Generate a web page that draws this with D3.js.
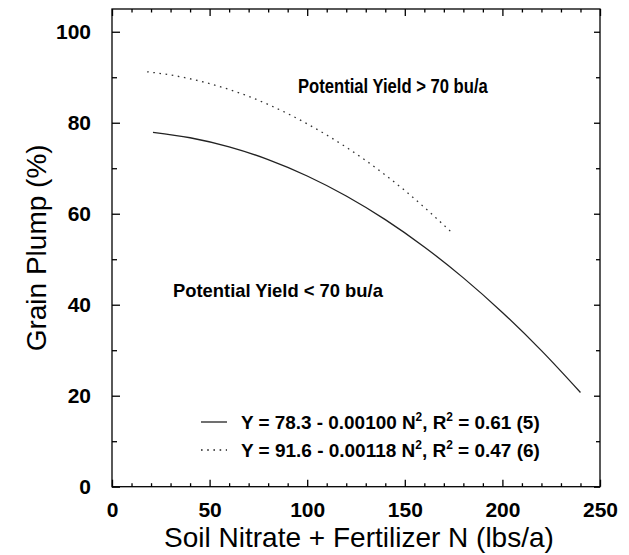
<!DOCTYPE html>
<html>
<head>
<meta charset="utf-8">
<script src="https://cdn.jsdelivr.net/npm/d3@7/dist/d3.min.js"></script>
<style>
  body { margin: 0; background: #fff; }
  svg { display: block; font-family: "Liberation Sans", Arial, sans-serif; }
</style>
</head>
<body>
<svg width="629" height="555"></svg>
<script>
// values
var lowN     = [21, 40, 60, 80, 100, 120, 140, 160, 180, 200, 220, 240];
var lowPlump = [77.9, 76.7, 74.7, 71.9, 68.3, 63.9, 58.7, 52.7, 45.9, 38.3, 29.9, 20.7];
var highN     = [18, 30, 50, 70, 90, 110, 130, 150, 175];
var highPlump = [91.2, 90.5, 88.6, 85.8, 82.0, 77.3, 71.7, 65.1, 55.5];
var xTicks = [0, 50, 100, 150, 200, 250];
var yTicks = [0, 20, 40, 60, 80, 100];
var legendText = [
	["Y = 78.3 - 0.00100 N", "2", ", R", "2", " = 0.61 (5)"],
	["Y = 91.6 - 0.00118 N", "2", ", R", "2", " = 0.47 (6)"]
];

var svg = d3.select("svg"),
	pLeft = 112, pTop = 9, pRight = 600, pBottom = 486.7;

var x = d3.scaleLinear().domain([0, 250]).range([pLeft, pRight]);
var y = d3.scaleLinear().domain([0, 105]).range([pBottom, pTop]);

var minorX = d3.range(0, 251, 10).filter(function(d) { return d % 50; });
var minorY = d3.range(10, 101, 20);

//frame
svg.append("rect")
	.attr("x", pLeft).attr("y", pTop)
	.attr("width", pRight - pLeft).attr("height", pBottom - pTop)
	.attr("fill", "none").attr("stroke", "#000").attr("stroke-width", 1.3);

function styleAxis(g) {
	g.select(".domain").remove();
	g.selectAll("line").attr("stroke", "#000").attr("stroke-width", 1.3);
	g.selectAll("text")
		.attr("fill", "#000")
		.style("font-size", "21px")
		.style("font-weight", "bold");
}

//major axes with labels
svg.append("g")
	.attr("transform", "translate(0," + pBottom + ")")
	.call(d3.axisBottom(x).tickValues(xTicks).tickSize(-7).tickPadding(15).tickFormat(d3.format("d")))
	.call(styleAxis);
svg.append("g")
	.attr("transform", "translate(" + pLeft + ",0)")
	.call(d3.axisLeft(y).tickValues(yTicks).tickSize(-8).tickPadding(21).tickFormat(d3.format("d")))
	.call(styleAxis);
svg.append("g")
	.attr("transform", "translate(0," + pTop + ")")
	.call(d3.axisTop(x).tickValues(xTicks).tickSize(-7).tickFormat(""))
	.call(styleAxis);
svg.append("g")
	.attr("transform", "translate(" + pRight + ",0)")
	.call(d3.axisRight(y).tickValues(yTicks).tickSize(-6).tickFormat(""))
	.call(styleAxis);

//minor ticks
svg.append("g").attr("transform", "translate(0," + pBottom + ")")
	.call(d3.axisBottom(x).tickValues(minorX).tickSize(-3.5).tickFormat("")).call(styleAxis);
svg.append("g").attr("transform", "translate(0," + pTop + ")")
	.call(d3.axisTop(x).tickValues(minorX).tickSize(-3.5).tickFormat("")).call(styleAxis);
svg.append("g").attr("transform", "translate(" + pLeft + ",0)")
	.call(d3.axisLeft(y).tickValues(minorY).tickSize(-5).tickFormat("")).call(styleAxis);
svg.append("g").attr("transform", "translate(" + pRight + ",0)")
	.call(d3.axisRight(y).tickValues(minorY).tickSize(-4).tickFormat("")).call(styleAxis);

//axis titles
svg.append("text")
	.attr("x", (pLeft + pRight) / 2 + 3).attr("y", 547)
	.attr("text-anchor", "middle")
	.style("font-size", "28px")
	.text("Soil Nitrate + Fertilizer N (lbs/a)");
svg.append("text")
	.attr("transform", "translate(46," + ((pTop + pBottom) / 2) + ") rotate(-90)")
	.attr("text-anchor", "middle")
	.style("font-size", "28px")
	.text("Grain Plump (%)");

//curves
var line = d3.line()
	.x(function(d) { return x(d[0]); })
	.y(function(d) { return y(d[1]); })
	.curve(d3.curveMonotoneX);

svg.append("path")
	.datum(d3.zip(lowN, lowPlump))
	.attr("d", line)
	.attr("fill", "none").attr("stroke", "#222").attr("stroke-width", 1.3);
svg.append("path")
	.datum(d3.zip(highN, highPlump))
	.attr("d", line)
	.attr("fill", "none").attr("stroke", "#333").attr("stroke-width", 1.3)
	.attr("stroke-dasharray", "1.6,4.6");

//squeeze text to a given width (the original font is condensed)
function fit(sel, width) {
	sel.each(function() {
		var w = this.getComputedTextLength(),
			x0 = +this.getAttribute("x");
		d3.select(this).attr("transform",
			"translate(" + x0 + ",0) scale(" + (width / w) + ",1) translate(" + (-x0) + ",0)");
	});
}

svg.append("text")
	.attr("x", 298).attr("y", 93)
	.style("font-size", "20px").style("font-weight", "bold")
	.text("Potential Yield > 70 bu/a")
	.call(fit, 190);
svg.append("text")
	.attr("x", 173).attr("y", 297)
	.style("font-size", "19px").style("font-weight", "bold")
	.text("Potential Yield < 70 bu/a")
	.call(fit, 210);

//legend
var legend = svg.selectAll(".legend")
	.data(legendText)
	.enter().append("g")
		.attr("class", "legend")
		.attr("transform", function(d, i) { return "translate(0," + (422 + i * 28) + ")"; });

legend.append("line")
	.attr("x1", 201).attr("x2", 227)
	.attr("stroke", "#222").attr("stroke-width", 1.3)
	.attr("stroke-dasharray", function(d, i) { return i ? "1.6,4.6" : null; });

var lt = legend.append("text")
	.attr("x", 241).attr("y", 7)
	.style("font-size", "19px").style("font-weight", "bold");
lt.each(function(parts) {
	var t = d3.select(this);
	parts.forEach(function(p, j) {
		var s = t.append("tspan").text(p);
		if (j % 2) s.attr("dy", -8).style("font-size", "12px");
		else if (j) s.attr("dy", 8);
	});
});
lt.call(fit, 299);
</script>
</body>
</html>
